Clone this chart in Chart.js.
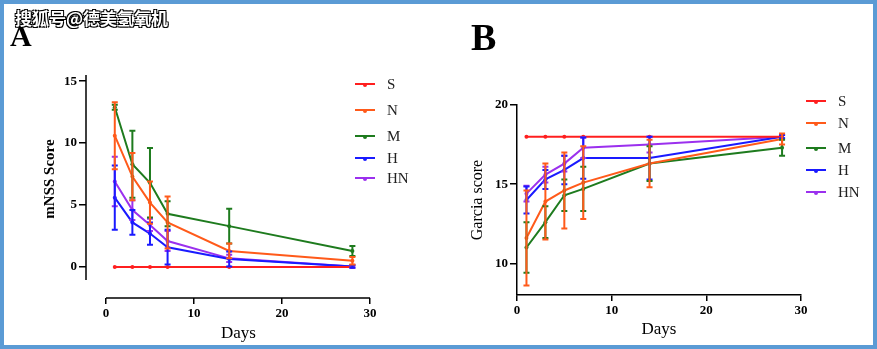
<!DOCTYPE html>
<html>
<head>
<meta charset="utf-8">
<script src="https://cdn.jsdelivr.net/npm/chart.js@4/dist/chart.umd.min.js"></script>
<style>
  html, body { margin: 0; padding: 0; background: #fff; }
  #page { position: relative; width: 877px; height: 349px; overflow: hidden; background: #fff; }
  #frame { position: absolute; left: 0; top: 0; width: 877px; height: 349px; box-sizing: border-box; border: 4px solid #5b9bd5; z-index: 5; pointer-events: none; }
  canvas { position: absolute; top: 0; }
  #chartA { left: 0; }
  #chartB { left: 440px; }
  .mark { position: absolute; font-family: "Liberation Serif", serif; font-weight: bold; color: #000; }
  .wm { position: absolute; left: 15px; top: 9px; font-family: "Noto Sans CJK SC", sans-serif; font-weight: bold; font-size: 17px; line-height: 17px; color: #fff; z-index: 3;
        text-shadow: -1px -1px 0 #000, 1px -1px 0 #000, -1px 1px 0 #000, 1px 1px 0 #000; }
  .xt { position: absolute; font-family: "Liberation Serif", serif; font-size: 17px; color: #000; }
  .yt { position: absolute; font-family: "Liberation Serif", serif; font-weight: bold; font-size: 15px; color: #000; white-space: nowrap;
        transform: translate(-50%, -50%) rotate(-90deg); }
  .legend { position: absolute; font-family: "Liberation Serif", serif; font-size: 15px; color: #222; }
  .legend div { position: absolute; white-space: nowrap; }
  .legend .ln { position: absolute; height: 2px; width: 20px; }
  .legend .dot { position: absolute; width: 4px; height: 4px; border-radius: 2px; left: 8px; top: -1px; }
  .legend .tx { position: absolute; transform: translateY(-50%); }
</style>
</head>
<body>
<div id="page">
  <canvas id="chartA" width="440" height="349"></canvas>
  <canvas id="chartB" width="437" height="349"></canvas>
  <div class="mark" style="left:10px;top:21px;font-size:30px;line-height:30px;">A</div>
  <div class="mark" style="left:471px;top:18px;font-size:38px;line-height:38px;">B</div>
  <div class="wm">搜狐号@德美氢氧机</div>
  <div class="xt" style="left:221px;top:323px;">Days</div>
  <div class="yt" style="left:49px;top:179px;">mNSS Score</div>
  <div id="legendA" class="legend"></div>
  <div id="legendB" class="legend"></div>
  <div id="frame"></div>
</div>
<script>
// days after injury
const days = [1, 3, 5, 7, 14, 28];
const groups = ['S', 'N', 'M', 'H', 'HN'];
const groupColors = ['#ff1f1f', '#ff5a1a', '#1e7b1e', '#1a1aff', '#9b30ee'];

// panel A: mNSS score (mean and error)
const mnssS = [0, 0, 0, 0, 0, 0];
const mnssN = [10.6, 7.3, 5.2, 3.6, 1.3, 0.5];
const mnssM = [12.9, 8.3, 6.8, 4.3, 3.3, 1.3];
const mnssH = [5.6, 3.6, 2.7, 1.6, 0.65, 0.05];
const mnssHN = [6.9, 4.6, 3.4, 2.1, 0.7, 0.05];
const mnssErrS = [0, 0, 0, 0, 0, 0];
const mnssErrN = [2.7, 1.9, 1.7, 2.1, 0.6, 0.3];
const mnssErrM = [0.2, 2.7, 2.8, 1.0, 1.4, 0.4];
const mnssErrH = [2.6, 1.0, 0.9, 1.4, 0.6, 0.1];
const mnssErrHN = [2.0, 0.8, 0.5, 0.8, 0.3, 0.1];

// panel B: Garcia score (mean and error)
const garS = [18, 18, 18, 18, 18, 18];
const garN = [11.6, 13.9, 14.6, 15.1, 16.3, 17.85];
const garM = [11.0, 12.6, 14.3, 14.7, 16.3, 17.3];
const garH = [14.0, 15.3, 15.9, 16.65, 16.65, 18.0];
const garHN = [14.4, 15.6, 16.3, 17.3, 17.5, 18.0];
const garErrS = [0, 0, 0, 0, 0, 0];
const garErrN = [3.0, 2.4, 2.4, 2.3, 1.5, 0.35];
const garErrM = [1.6, 1.0, 1.0, 1.4, 1.1, 0.5];
const garErrH = [0.85, 0.6, 0.9, 1.3, 1.35, 0.1];
const garErrHN = [0.5, 0.5, 0.5, 0.65, 0.5, 0.1];

const xTicks = [0, 10, 20, 30];
const mnssTicks = [0, 5, 10, 15];
const garTicks = [10, 15, 20];

const serif = '"Liberation Serif", "Times New Roman", serif';

// vertical error bars with caps, drawn on top of the lines
const errorBars = {
  id: 'errorBars',
  afterDatasetsDraw(chart, args, opts) {
    const ctx = chart.ctx;
    const y = chart.scales.y;
    ctx.save();
    for (let d = chart.data.datasets.length - 1; d >= 0; d--) {
      const ds = chart.data.datasets[d];
      const errs = opts.errors[d];
      const meta = chart.getDatasetMeta(d);
      ctx.strokeStyle = ds.borderColor;
      ctx.lineWidth = 2;
      meta.data.forEach((pt, i) => {
        const e = errs[i];
        if (!e) return;
        const top = y.getPixelForValue(ds.data[i].y + e);
        const bot = y.getPixelForValue(ds.data[i].y - e);
        ctx.beginPath();
        ctx.moveTo(pt.x, top); ctx.lineTo(pt.x, bot);
        ctx.moveTo(pt.x - 3, top); ctx.lineTo(pt.x + 3, top);
        ctx.moveTo(pt.x - 3, bot); ctx.lineTo(pt.x + 3, bot);
        ctx.stroke();
      });
    }
    ctx.restore();
  }
};

// detached axis lines (prism style) for panel A
const splitAxes = {
  id: 'splitAxes',
  afterDraw(chart, args, opts) {
    if (!opts.on) return;
    const {ctx, chartArea, scales: {x, y}} = chart;
    ctx.save();
    ctx.strokeStyle = '#000';
    ctx.lineWidth = 1.5;
    ctx.beginPath();
    ctx.moveTo(chartArea.left, y.getPixelForValue(opts.yFrom));
    ctx.lineTo(chartArea.left, y.getPixelForValue(opts.yTo));
    ctx.moveTo(x.getPixelForValue(opts.xFrom), chartArea.bottom);
    ctx.lineTo(x.getPixelForValue(opts.xTo), chartArea.bottom);
    ctx.stroke();
    ctx.restore();
  }
};

const makeSets = (series) => series.map((vals, k) => ({
  label: groups[k],
  data: vals.map((v, i) => ({x: days[i], y: v})),
  borderColor: groupColors[k],
  backgroundColor: groupColors[k],
  borderWidth: 2,
  pointRadius: 2,
  pointBorderWidth: 0,
  tension: 0
}));

const tickFont = {family: serif, size: 13, weight: 'bold'};

const makeChart = (el, cfg) => new Chart(el, {
  type: 'line',
  data: {datasets: makeSets(cfg.series)},
  options: {
    responsive: false,
    animation: false,
    layout: {padding: cfg.padding},
    plugins: {
      legend: {display: false},
      tooltip: {enabled: false},
      errorBars: {errors: cfg.errors},
      splitAxes: cfg.split
    },
    scales: {
      x: {
        type: 'linear',
        min: cfg.xMin, max: 30,
        afterBuildTicks: (s) => { s.ticks = xTicks.map(v => ({value: v})); },
        afterFit: (s) => { s.height = cfg.xHeight; },
        border: {display: !cfg.split.on, color: '#000', width: 1.5},
        grid: {display: true, drawOnChartArea: false, drawTicks: true, tickLength: 6, color: '#000', lineWidth: 1.5},
        ticks: {color: '#000', font: tickFont, padding: 2, maxRotation: 0},
        title: cfg.xTitle
      },
      y: {
        min: cfg.yMin, max: cfg.yMax,
        afterBuildTicks: (s) => { s.ticks = cfg.yTicks.map(v => ({value: v})); },
        afterFit: (s) => { s.width = cfg.yWidth; },
        border: {display: !cfg.split.on, color: '#000', width: 1.5},
        grid: {display: true, drawOnChartArea: false, drawTicks: true, tickLength: 7, color: '#000', lineWidth: 1.5},
        ticks: {color: '#000', font: tickFont, padding: 2},
        title: cfg.yTitle
      }
    }
  },
  plugins: [errorBars, splitAxes]
});

makeChart(document.getElementById('chartA'), {
  series: [mnssS, mnssN, mnssM, mnssH, mnssHN],
  errors: [mnssErrS, mnssErrN, mnssErrM, mnssErrH, mnssErrHN],
  padding: {top: 75, right: 70, left: 0, bottom: 0},
  xMin: -2.27, yMin: -2.5, yMax: 15.5,
  yTicks: mnssTicks, xHeight: 51, yWidth: 86,
  split: {on: true, yFrom: -1.05, yTo: 15.5, xFrom: 0, xTo: 30},
  xTitle: {display: false},
  yTitle: {display: false}
});

makeChart(document.getElementById('chartB'), {
  series: [garS, garN, garM, garH, garHN],
  errors: [garErrS, garErrN, garErrM, garErrH, garErrHN],
  padding: {top: 105, right: 76, left: 0, bottom: 0},
  xMin: 0, yMin: 8, yMax: 20,
  yTicks: garTicks, xHeight: 54, yWidth: 77,
  split: {on: false},
  xTitle: {display: true, text: 'Days', color: '#000', font: {family: serif, size: 17}, padding: {bottom: 9}},
  yTitle: {display: true, text: 'Garcia score', color: '#000', font: {family: serif, size: 16}, padding: {top: 28}}
});

// legends to the right of each panel
const buildLegend = (el, left, rows) => {
  el.style.left = left + 'px';
  el.style.top = '0px';
  groups.forEach((g, k) => {
    const row = document.createElement('div');
    row.style.top = rows[k] + 'px';
    row.innerHTML = '<span class="ln" style="background:' + groupColors[k] + ';top:-1px;left:0"></span>' +
      '<span class="dot" style="background:' + groupColors[k] + '"></span>' +
      '<span class="tx" style="left:32px">' + g + '</span>';
    el.appendChild(row);
  });
};
buildLegend(document.getElementById('legendA'), 355, [84, 110, 136, 158, 178]);
buildLegend(document.getElementById('legendB'), 806, [101, 123, 148, 170, 192]);
</script>
</body>
</html>
